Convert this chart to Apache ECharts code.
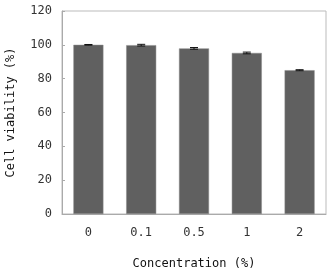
<!DOCTYPE html>
<html>
<head>
<meta charset="utf-8">
<script src="https://cdn.jsdelivr.net/npm/echarts@6/dist/echarts.min.js"></script>
<style>
  html, body { margin: 0; padding: 0; background: #fff; }
  #chart { width: 332px; height: 272px; }
</style>
</head>
<body>
<div id="chart"></div>
<script>
// data
const categories = ['0', '0.1', '0.5', '1', '2'];
const viability = [100, 99.8, 97.9, 95.2, 85.0];
const errors = [0.2, 0.5, 0.5, 0.5, 0.3];
const yTicks = [0, 20, 40, 60, 80, 100, 120];

const font = 'DejaVu Sans Mono';
const chart = echarts.init(document.getElementById('chart'));

const errData = viability.map(function (v, i) { return [i, v - errors[i], v + errors[i]]; });

const option = {
  animation: false,
  backgroundColor: '#fff',
  grid: {
    left: 62, top: 11, right: 6, bottom: 58,
    containLabel: false, outerBoundsMode: 'none',
    show: true, borderColor: '#bbb', borderWidth: 1
  },
  xAxis: {
    type: 'category',
    data: categories,
    name: 'Concentration (%)',
    nameLocation: 'middle',
    nameGap: 44,
    nameTextStyle: { fontFamily: font, fontSize: 12, color: '#111' },
    axisLine: { lineStyle: { color: '#aaa' } },
    axisTick: { show: false },
    axisLabel: { fontFamily: font, fontSize: 12, color: '#333', margin: 13 }
  },
  yAxis: {
    type: 'value',
    min: yTicks[0],
    max: yTicks[yTicks.length - 1],
    interval: 20,
    name: 'Cell viability (%)',
    nameLocation: 'middle',
    nameGap: 45,
    nameTextStyle: { fontFamily: font, fontSize: 12, color: '#111' },
    axisLine: { show: true, lineStyle: { color: '#aaa' } },
    axisTick: { show: true, inside: true, length: 3, lineStyle: { color: '#aaa' } },
    splitLine: { show: false },
    axisLabel: { fontFamily: font, fontSize: 12, color: '#333', margin: 10 }
  },
  series: [
    {
      type: 'bar',
      data: viability,
      barWidth: 30,
      itemStyle: { color: '#606060', borderColor: '#8a8a8a', borderWidth: 0.5 }
    },
    {
      type: 'custom',
      data: errData,
      z: 10,
      renderItem: function (params, api) {
        const x = api.coord([api.value(0), 0])[0];
        const lo = api.coord([api.value(0), api.value(1)])[1];
        const hi = api.coord([api.value(0), api.value(2)])[1];
        const w = 4;
        const st = { stroke: '#111', lineWidth: 1 };
        return {
          type: 'group',
          children: [
            { type: 'line', shape: { x1: x, y1: lo, x2: x, y2: hi }, style: st },
            { type: 'line', shape: { x1: x - w, y1: hi, x2: x + w, y2: hi }, style: st },
            { type: 'line', shape: { x1: x - w, y1: lo, x2: x + w, y2: lo }, style: st }
          ]
        };
      }
    }
  ]
};
chart.setOption(option);
</script>
</body>
</html>
